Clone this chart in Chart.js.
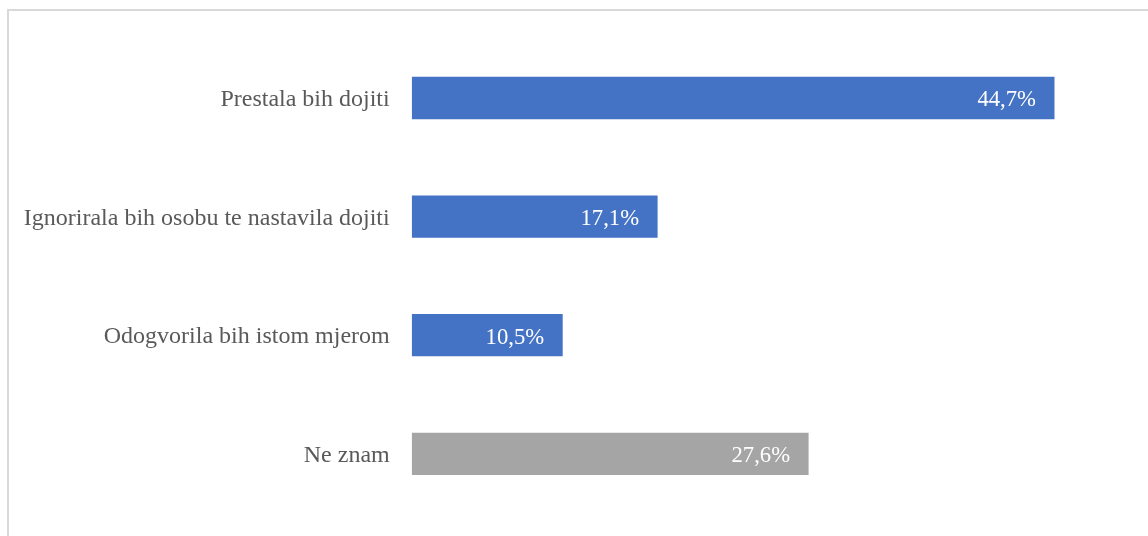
<!DOCTYPE html>
<html>
<head>
<meta charset="utf-8">
<script src="https://cdn.jsdelivr.net/npm/chart.js@4.4.1/dist/chart.umd.min.js"></script>
<style>
  html, body { margin: 0; padding: 0; background: #ffffff; }
  body { width: 1148px; height: 536px; position: relative; overflow: hidden; }
  #frame { position: absolute; left: 7px; top: 9px; width: 1200px; height: 600px;
           border-left: 2px solid #D9D9D9; border-top: 2px solid #D9D9D9; box-sizing: border-box; }
  #wrap { position: absolute; left: 0; top: 0; width: 1148px; height: 536px; }
</style>
</head>
<body>
<div id="frame"></div>
<div id="wrap"><canvas id="c" width="1148" height="536"></canvas></div>
<script>
const categories = [
  "Prestala bih dojiti",
  "Ignorirala bih osobu te nastavila dojiti",
  "Odogvorila bih istom mjerom",
  "Ne znam"
];
const values = [44.7, 17.1, 10.5, 27.6];
const barColors = ["#4472C4", "#4472C4", "#4472C4", "#A5A5A5"];
const valueLabels = ["44,7%", "17,1%", "10,5%", "27,6%"];

const dataLabelPlugin = {
  id: 'dataLabels',
  afterDatasetsDraw(chart) {
    const ctx = chart.ctx;
    const meta = chart.getDatasetMeta(0);
    ctx.save();
    ctx.font = '22.7px "Liberation Serif", "Times New Roman", serif';
    ctx.fillStyle = '#FFFFFF';
    ctx.textAlign = 'right';
    ctx.textBaseline = 'middle';
    meta.data.forEach((bar, i) => {
      ctx.fillText(valueLabels[i], bar.x - 18.5, bar.y + 2.5);
    });
    ctx.restore();
  }
};

new Chart(document.getElementById('c'), {
  type: 'bar',
  data: {
    labels: categories,
    datasets: [{
      data: values,
      backgroundColor: barColors,
      borderWidth: 0,
      categoryPercentage: 1.0,
      barPercentage: 0.357
    }]
  },
  options: {
    indexAxis: 'y',
    responsive: false,
    animation: false,
    devicePixelRatio: 1,
    layout: { padding: { left: 0, right: 17.3, top: 38.7, bottom: 22.9 } },
    plugins: { legend: { display: false }, tooltip: { enabled: false } },
    scales: {
      x: {
        display: false,
        min: 0,
        max: 50
      },
      y: {
        grid: { display: false, drawTicks: false },
        border: { display: false },
        ticks: {
          padding: 22,
          labelOffset: 2,
          color: '#595959',
          font: { family: '"Liberation Serif", "Times New Roman", serif', size: 24 }
        },
        afterFit(scale) {
          scale.width = 411.7;
          scale.paddingTop = 0;
          scale.paddingBottom = 0;
        }
      }
    }
  },
  plugins: [dataLabelPlugin]
});
</script>
</body>
</html>
